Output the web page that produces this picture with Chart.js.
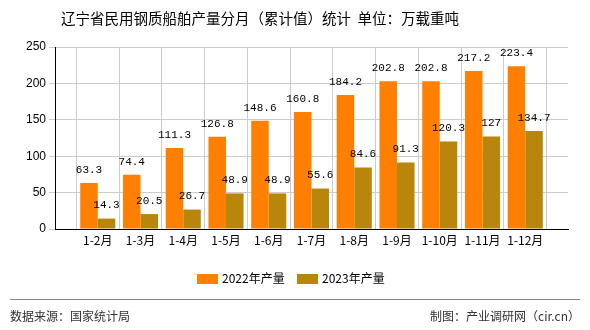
<!DOCTYPE html>
<html>
<head>
<meta charset="utf-8">
<script src="https://cdn.jsdelivr.net/npm/chart.js@4"></script>
<style>
body{margin:0;background:#fff;font-family:"Noto Sans CJK SC","Noto Sans",sans-serif;}
#wrap{position:relative;width:590px;height:330px;overflow:hidden;}
#title{position:absolute;left:0;width:520px;top:7px;text-align:center;font-size:14.5px;color:#000;}
.leg{position:absolute;top:269px;font-size:12px;color:#000;}
.leg span{display:inline-block;width:21px;height:10px;vertical-align:-1px;margin-right:4px;}
#line{position:absolute;left:10px;top:299px;width:570px;height:1px;background:#888;}
.foot{position:absolute;top:307px;font-size:12px;color:#333;}
canvas{position:absolute;left:0;top:0;}
</style>
</head>
<body>
<div id="wrap">
<canvas id="chart" width="590" height="330"></canvas>
<div id="title">辽宁省民用钢质船舶产量分月（累计值）统计&nbsp;&nbsp;单位：万载重吨</div>
<div class="leg" style="left:197px"><span style="background:#FF8000"></span>2022年产量</div>
<div class="leg" style="left:297px"><span style="background:#B8860B"></span>2023年产量</div>
<div id="line"></div>
<div class="foot" style="left:10px">数据来源：国家统计局</div>
<div class="foot" style="right:10px">制图：产业调研网（cir.cn）</div>
</div>
<script>
// ---------------------
// DADOS
// ---------------------
const categorias=["1-2月","1-3月","1-4月","1-5月","1-6月","1-7月","1-8月","1-9月","1-10月","1-11月","1-12月"];
const producao2022=[63.3,74.4,111.3,126.8,148.6,160.8,184.2,202.8,202.8,217.2,223.4];
const producao2023=[14.3,20.5,26.7,48.9,48.9,55.6,84.6,91.3,120.3,127,134.7];
const ticksY=[0,50,100,150,200,250];

// slot vazio no inicio e no fim, como no original
const labels=["",...categorias,""];
const d2022=[null,...producao2022,null];
const d2023=[null,...producao2023,null];

const valoresPlugin={
    id:"valores",
    afterDatasetsDraw(chart){
        const ctx=chart.ctx;
        ctx.save();
        ctx.font="11px 'Liberation Mono', monospace";
        ctx.fillStyle="#000";
        ctx.textAlign="center";
        ctx.textBaseline="middle";
        chart.data.datasets.forEach((ds,i)=>{
            chart.getDatasetMeta(i).data.forEach((bar,j)=>{
                const v=ds.data[j];
                if(v==null) return;
                ctx.fillText(String(v),bar.x,bar.y-13);
            });
        });
        ctx.restore();
    }
};

new Chart(document.getElementById("chart"),{
    type:"bar",
    data:{
        labels:labels,
        datasets:[
            {label:"2022年产量",data:d2022,backgroundColor:"#FF8000"},
            {label:"2023年产量",data:d2023,backgroundColor:"#B8860B"}
        ]
    },
    options:{
        responsive:false,
        animation:false,
        layout:{padding:{top:47,right:22,left:0,bottom:0}},
        plugins:{legend:{display:false},tooltip:{enabled:false},title:{display:false}},
        datasets:{bar:{categoryPercentage:0.82,barPercentage:1}},
        scales:{
            x:{
                offset:false,
                afterFit(s){s.height=101;},
                grid:{color:"#ccc",drawTicks:false},
                border:{color:"#000"},
                ticks:{color:"#000",font:{size:12,family:"'Noto Sans CJK SC'"},padding:4,maxRotation:0,autoSkip:false}
            },
            y:{
                min:0,max:250,
                afterFit(s){s.width=55;},
                afterBuildTicks(s){s.ticks=ticksY.map(v=>({value:v}));},
                grid:{color:"#ccc",tickLength:6},
                border:{color:"#000"},
                ticks:{color:"#000",font:{size:12,family:"'Liberation Sans'"},padding:3}
            }
        }
    },
    plugins:[valoresPlugin]
});
</script>
</body>
</html>
